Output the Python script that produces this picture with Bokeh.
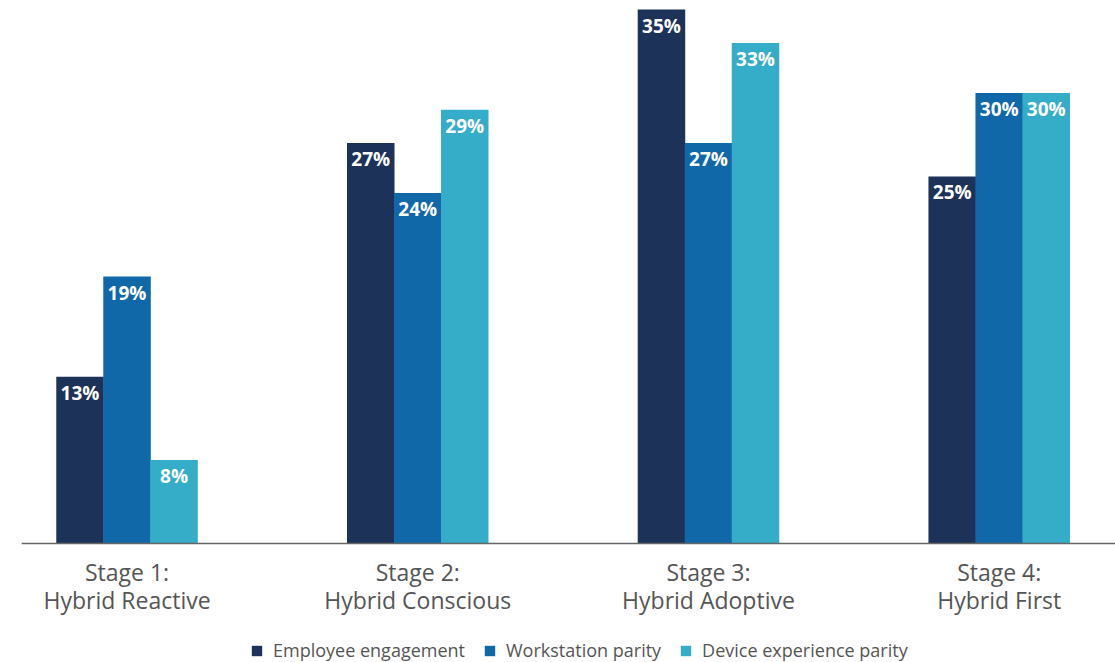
from bokeh.plotting import figure
from bokeh.models import Range1d, Legend, LegendItem, ColumnDataSource, Span
from bokeh.core.properties import value
from bokeh.embed import file_html
from bokeh.resources import INLINE

categories = ["Stage 1:\nHybrid Reactive", "Stage 2:\nHybrid Conscious",
              "Stage 3:\nHybrid Adoptive", "Stage 4:\nHybrid First"]
series_names = ["Employee engagement", "Workstation parity", "Device experience parity"]
employee_engagement = [13, 27, 35, 25]
workstation_parity = [19, 24, 27, 30]
device_experience_parity = [8, 29, 33, 30]
colors = ["#1D3259", "#1068A8", "#36ADC8"]

baseline = 3
series = [employee_engagement, workstation_parity, device_experience_parity]
offsets = [-0.1617, 0.0, 0.1617]
bar_w = 0.1634

p = figure(frame_width=1094, frame_height=662, output_backend="svg", toolbar_location=None,
           x_range=Range1d(-0.363, 3.40), y_range=Range1d(-4.131, 35.54),
           x_axis_location=None, y_axis_location=None,
           min_border_left=21, min_border_right=0, min_border_top=0, min_border_bottom=0)
p.outline_line_color = None
p.xgrid.grid_line_color = None
p.ygrid.grid_line_color = None
p.background_fill_color = "white"
p.border_fill_color = "white"

items = []
for name, vals, off, col in zip(series_names, series, offsets, colors):
    xs = [i + off for i in range(len(categories))]
    src = ColumnDataSource(dict(x=xs, top=vals, label=[f"{v}%" for v in vals]))
    r = p.vbar(x="x", top="top", bottom=baseline, width=bar_w, source=src,
               fill_color=col, line_color=None)
    p.text(x="x", y="top", text="label", source=src, text_align="center",
           text_baseline="middle", y_offset=16, text_color="white",
           text_font=value("Open Sans"), text_font_style="bold",
           text_font_size="19px")
    items.append(LegendItem(label=name, renderers=[r]))

p.add_layout(Span(location=baseline, dimension="width", line_color="#666666",
                  line_width=1.5))

cat_src = ColumnDataSource(dict(x=list(range(len(categories))),
                                y=[baseline] * len(categories), text=categories))
p.text(x="x", y="y", text="text", source=cat_src, text_align="center",
       text_baseline="top", y_offset=12, text_color="#555555",
       text_font=value("Open Sans"), text_font_size="23px", text_line_height=0.89)

legend = Legend(items=items, orientation="horizontal", location=(229, 0),
                label_text_font="Open Sans", label_text_font_size="18px",
                label_text_color="#555555", glyph_width=13, glyph_height=13,
                label_height=18, spacing=18, padding=0, margin=0,
                border_line_color=None, background_fill_alpha=0,
                label_standoff=10)
p.add_layout(legend, "center")

open("out.html", "w").write(file_html(p, INLINE))
